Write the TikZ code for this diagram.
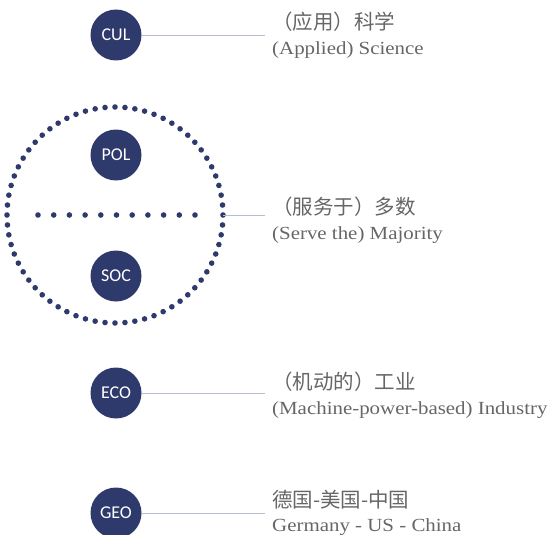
\documentclass[tikz,border=0pt]{standalone}
\usepackage{fontspec}
\usetikzlibrary{calc}
\setmainfont{Liberation Serif}[FakeStretch=1.13]
\newfontfamily\cjkf{Noto Sans CJK SC}
\newfontfamily\lblf{Carlito}
\definecolor{navy}{HTML}{2F3A6C}
\definecolor{linec}{HTML}{B4BCD2}
\definecolor{txtc}{HTML}{666666}
\begin{document}
\begin{tikzpicture}[x=1pt,y=-1pt,
  dot/.style={circle,fill=navy,inner sep=0pt,minimum size=5.6pt},
  topic/.style={circle,fill=navy,inner sep=0pt,minimum size=51pt,text=white,font=\lblf\fontsize{18}{18}\selectfont},
  conn/.style={draw=linec,line width=0.8pt},
  desc/.style={anchor=west,align=left,text=txtc,inner xsep=7pt,inner ysep=0pt,font=\fontsize{18.5}{24.5}\selectfont}]
\useasboundingbox (0,0) rectangle (549,535);
% topic circles
\node[topic] (cul) at (116,35) {CUL};
\node[topic] (pol) at (116,155) {POL};
\node[topic] (soc) at (116,276) {SOC};
\node[topic] (eco) at (116,393) {ECO};
\node[topic] (geo) at (116,513) {GEO};
% big dotted circle
\node[circle,inner sep=0pt,minimum size=216pt] (big) at (115,215) {};
\foreach \i in {0,...,67}{
  \node[dot] at ($(big.center)+({360/68*\i}:108)$) {};
}
\foreach \i in {0,...,10}{
  \node[dot] at (38+15.7*\i,215) {};
}
% descriptions
\node[desc] (dcul) at (265,35) {{\cjkf\fontsize{20.5}{20}\selectfont （应用）科学}\\(Applied) Science};
\node[desc] (dmid) at (265,220) {{\cjkf\fontsize{20.5}{20}\selectfont （服务于）多数}\\(Serve the) Majority};
\node[desc] (deco) at (265,395) {{\cjkf\fontsize{20.5}{20}\selectfont （机动的）工业}\\(Machine-power-based) Industry};
\node[desc] (dgeo) at (265,513) {{\cjkf\fontsize{20.5}{20}\selectfont 德国-美国-中国}\\Germany - US - China};
% connectors
\draw[conn] (cul.east) -- (cul.east -| dcul.west);
\draw[conn] (big.east) -- (big.east -| dmid.west);
\draw[conn] (eco.east) -- (eco.east -| deco.west);
\draw[conn] (geo.east) -- (geo.east -| dgeo.west);
\end{tikzpicture}
\end{document}
